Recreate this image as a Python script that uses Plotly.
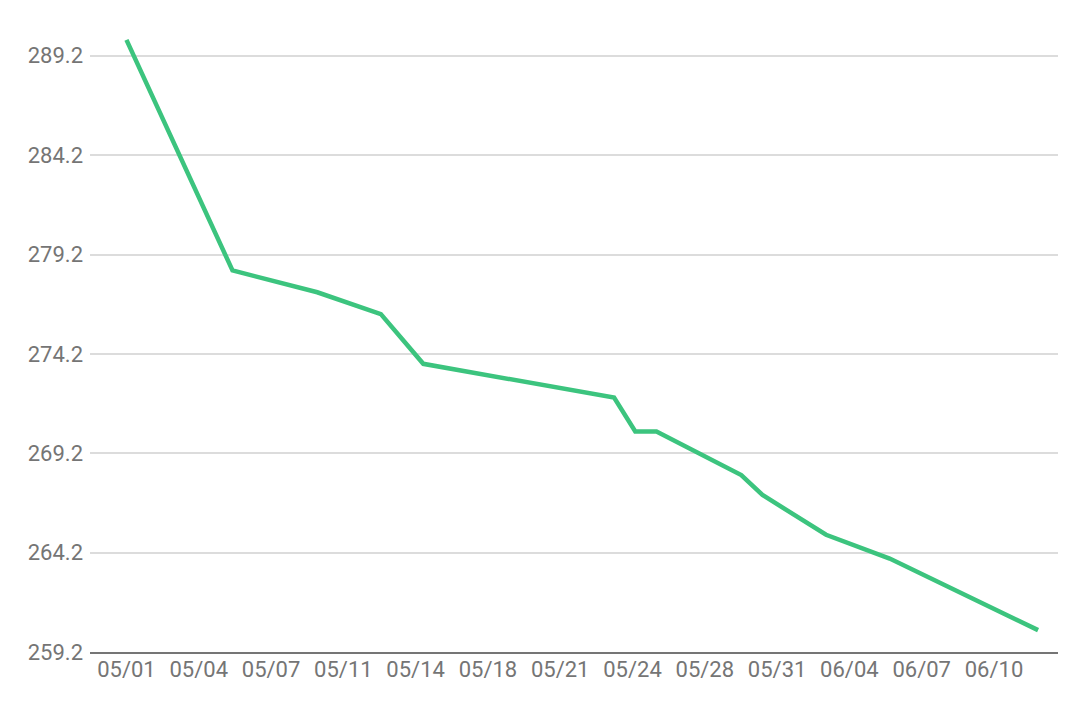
import datetime as dt
import plotly.graph_objects as go

# Data
dates = ["2024-05-01", "2024-05-06", "2024-05-10", "2024-05-13", "2024-05-15",
         "2024-05-24", "2024-05-25", "2024-05-26", "2024-05-30", "2024-05-31",
         "2024-06-03", "2024-06-06", "2024-06-13"]
values = [290.0, 278.4, 277.3, 276.2, 273.7, 272.0, 270.3, 270.3, 268.1, 267.1,
          265.1, 263.9, 260.3]

x_tick_labels = ["05/01", "05/04", "05/07", "05/11", "05/14", "05/18", "05/21",
                 "05/24", "05/28", "05/31", "06/04", "06/07", "06/10"]
y_tick_vals = [259.2, 264.2, 269.2, 274.2, 279.2, 284.2, 289.2]

# Axis tick positions: evenly spaced time ticks as in the reference
t0 = dt.datetime(2024, 5, 1)
step = dt.timedelta(days=3.41)
x_tick_vals = [t0 + i * step for i in range(len(x_tick_labels))]
x_range = [t0 - dt.timedelta(days=1.72), t0 + dt.timedelta(days=43.94)]

fig = go.Figure()
fig.add_trace(go.Scatter(
    x=dates, y=values, mode="lines",
    line=dict(color="#3CC47E", width=4.5),
    hoverinfo="x+y",
))

fig.update_layout(
    width=1080, height=714,
    margin=dict(l=82, r=30, t=8, b=70),
    paper_bgcolor="white", plot_bgcolor="white",
    showlegend=False,
    font=dict(family="Roboto", size=22, color="#757575"),
    xaxis=dict(
        type="date", range=x_range,
        tickmode="array", tickvals=x_tick_vals, ticktext=x_tick_labels,
        showgrid=False, zeroline=False,
        showline=True, linecolor="#757575", linewidth=2,
        ticks="", ticklabelstandoff=-3,
        tickfont=dict(family="Roboto", size=22, color="#757575"),
    ),
    yaxis=dict(
        range=[259.2, 291.2],
        tickmode="array", tickvals=y_tick_vals,
        ticktext=[f"{v:.1f}" for v in y_tick_vals],
        showgrid=True, gridcolor="#DCDCDC", gridwidth=2,
        zeroline=False, showline=False, ticks="",
        ticklabelstandoff=6,
        tickfont=dict(family="Roboto", size=22, color="#757575"),
    ),
)

fig.write_html("out.html")
